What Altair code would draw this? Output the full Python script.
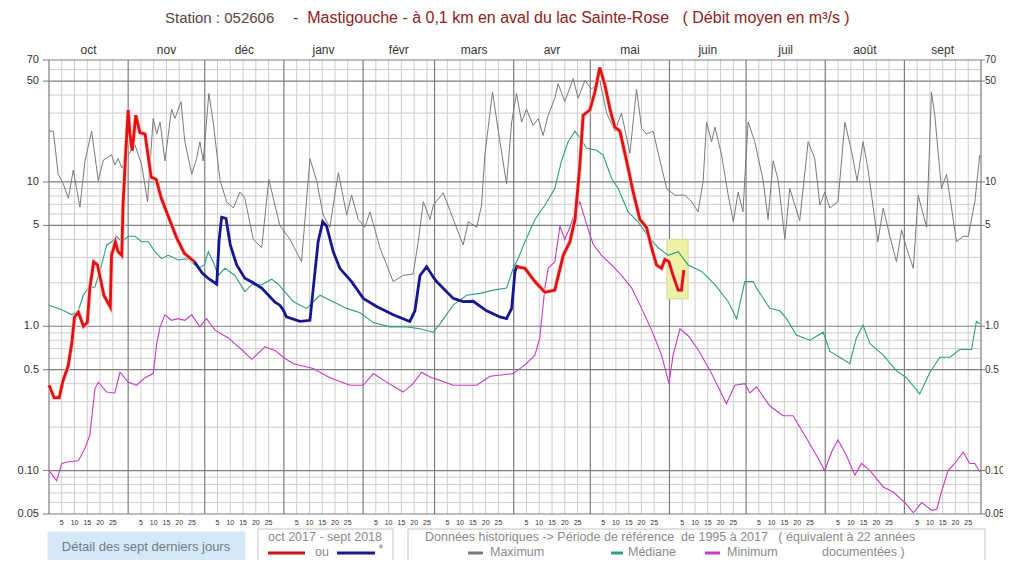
import altair as alt
import pandas as pd

NB = "\u00a0"
# ---------------- text ----------------
title_station = "Station : 052606"
title_rest = "-" + NB * 2 + "Mastigouche - à 0,1 km en aval du lac Sainte-Rose" + NB * 3 + "( Débit moyen en m³/s )"
legend_period = "oct 2017 - sept 2018"
legend_detail = "Détail des sept derniers jours"
legend_hist = ("Données historiques -> Période de référence" + NB * 2 + "de 1995 à 2017" + NB * 3
               + "( équivalent à 22 années")
legend_names = ["Maximum", "Médiane", "Minimum"]
legend_tail = "documentées )"
months = ["oct", "nov", "déc", "janv", "févr", "mars", "avr", "mai", "juin", "juil", "août", "sept"]
month_starts = [0, 31, 61, 92, 123, 151, 182, 212, 243, 273, 304, 335, 365]
day_marks = [5, 10, 15, 20, 25]
major_levels = [0.05, 0.1, 0.5, 1, 5, 10, 50, 70]
major_labels = ["0.05", "0.10", "0.5", "1.0", "5", "10", "50", "70"]
minor_levels = [0.06, 0.07, 0.08, 0.09, 0.2, 0.3, 0.4, 0.6, 0.7, 0.8, 0.9,
                2, 3, 4, 6, 7, 8, 9, 20, 30, 40, 60]

# ---------------- data (day index from 1 Oct, flow m3/s) ----------------
current_red_1 = [(0, 0.39), (2, 0.32), (4, 0.32), (5.5, 0.42), (7.5, 0.53), (9, 0.78), (10, 1.16),
                 (11.5, 1.25), (13.5, 1.0), (15, 1.06), (16, 1.84), (17.5, 2.79), (19, 2.66),
                 (21.5, 1.64), (24, 1.36), (24.5, 3.1), (26, 3.85), (27, 3.3), (28.5, 3.1),
                 (29, 6.9), (30, 15.4), (31, 31.5), (31.7, 21.5), (32.6, 16.5), (34, 29),
                 (35.6, 22), (37.6, 21.5), (39, 14.5), (40, 10.8), (42, 10.4), (44, 7.7),
                 (47, 5.6), (50, 4.1), (53, 3.2), (57, 2.8)]
current_blue = [(57, 2.8), (60, 2.34), (62.4, 2.15), (65.7, 1.96), (66.6, 3.9), (67.6, 5.7),
                (69.3, 5.6), (71, 3.66), (73.5, 2.66), (76.7, 2.15), (80, 2.0), (83.3, 1.84),
                (88.5, 1.47), (90.4, 1.40), (91.7, 1.30), (93, 1.16), (98.3, 1.08), (102.2, 1.10),
                (103.5, 1.84), (105.4, 3.85), (107.2, 5.3), (108.7, 4.95), (111.3, 3.29),
                (113.9, 2.52), (118.5, 2.04), (123.1, 1.56), (128.3, 1.37), (134.8, 1.20),
                (141.3, 1.08), (143.3, 1.28), (145.3, 2.25), (147.9, 2.59), (150.5, 2.19),
                (151.8, 2.04), (158.3, 1.56), (162.2, 1.48), (166.1, 1.49), (171.4, 1.28),
                (176.6, 1.16), (179.2, 1.13), (181.2, 1.33), (182.5, 2.4), (183.4, 2.66)]
current_red_2 = [(183, 2.59), (186.4, 2.52), (190.3, 2.04), (194.2, 1.72), (198.1, 1.78),
                 (201.4, 3.1), (204, 3.85), (206, 5.5), (207.9, 13.1), (209.2, 29), (211.8, 31.5),
                 (213.8, 42), (215.7, 62), (217.7, 47), (219.7, 32), (221.6, 24), (223.6, 22.5),
                 (226.2, 14), (228.8, 8.5), (231.4, 5.5), (234, 4.85), (236, 3.5), (237.9, 2.66),
                 (239.9, 2.52), (241.2, 2.9), (242.8, 2.8), (244.4, 2.25), (246.4, 1.78),
                 (247.7, 1.78), (248.6, 2.45)]
maximum = [(0, 22.5), (1.7, 22.5), (3.6, 11.3), (5.6, 9.7), (7.6, 7.7), (9.5, 12.1), (10.8, 9.0),
           (12.1, 6.7), (14.1, 14), (16.7, 22.5), (19.3, 10.2), (21.3, 14.2), (24.5, 15.4),
           (25.8, 13.1), (27.1, 14.5), (28.5, 12.5), (31, 15.4), (33.7, 18.0), (36.3, 13.1),
           (38.6, 7.3), (40.8, 27.5), (42.2, 21.5), (43.5, 26), (45.4, 14), (48, 32), (49.3, 27.5),
           (51.7, 36), (53.2, 19), (55.9, 11.3), (57.8, 14.5), (59.1, 19), (60.4, 14), (62.6, 41),
           (64.3, 26), (67, 10.2), (69.6, 7.3), (72.2, 6.6), (74.8, 8.5), (76.7, 7.7), (80, 4.0),
           (83.3, 3.5), (86.1, 10.4), (88.5, 6.9), (90.4, 5.0), (94.4, 4.0), (98.9, 2.8),
           (102.2, 14.5), (104.8, 10.2), (107.4, 5.9), (110, 4.85), (113.3, 11.6), (116.6, 5.9),
           (118.5, 8.1), (121.1, 5.5), (123.7, 4.85), (125.7, 6.2), (129.6, 3.5), (134.8, 2.04),
           (138.7, 2.25), (142.6, 2.3), (144.6, 3.85), (146.6, 7.3), (149.2, 5.5), (150.5, 6.9),
           (154.4, 8.4), (157.7, 5.9), (162.2, 3.66), (164.2, 5.3), (167.5, 4.85), (169.4, 6.9),
           (170.7, 15.4), (173.7, 42), (176.6, 19), (179.2, 9.7), (181.2, 26), (183.1, 41),
           (185.1, 26), (187, 32), (189.6, 24.6), (191.6, 27.5), (193.5, 21), (195.5, 29),
           (198.1, 38), (199.4, 48), (202, 36), (205.3, 52), (207.2, 38), (209.9, 50.5),
           (212.5, 44), (215.7, 50.5), (218.4, 30), (221.6, 22.5), (224.2, 30), (227.5, 15.8),
           (230.1, 44), (232.1, 23.5), (234, 21.5), (236.6, 22.5), (239.3, 14), (241.9, 9.0),
           (245.1, 8.1), (249, 8.1), (251.7, 7.3), (254.2, 6.2), (256.2, 10.2), (257.5, 26),
           (259.5, 19), (260.8, 24), (263.4, 15.4), (266, 8.1), (268, 5.3), (269.9, 8.5),
           (271.8, 6.2), (272.5, 10.6), (273.8, 26), (276.4, 19), (279.7, 10.2), (281.6, 5.5),
           (283.6, 14), (285.6, 10.2), (288.2, 4.0), (290.1, 9.0), (294, 5.4), (297.3, 19),
           (299.9, 14.5), (301.9, 6.9), (303.8, 8.5), (305.8, 6.6), (309, 7.3), (311.7, 26),
           (314.3, 16.3), (316.5, 10.2), (318.8, 19), (320.7, 12.5), (324.6, 3.85), (326.7, 6.6),
           (329.3, 4.2), (331.9, 2.8), (333.9, 4.65), (335.8, 3.5), (338.5, 2.52), (340.4, 8.1),
           (343.7, 4.85), (345.6, 42), (346.9, 29), (349.5, 9.0), (351.5, 11.3), (355.4, 3.85),
           (358, 4.2), (360, 4.2), (362.6, 7.3), (364.5, 15.4)]
median = [(0, 1.40), (5, 1.30), (9, 1.2), (11.5, 1.28), (13.4, 1.64), (15.4, 1.84), (18, 1.87),
          (20.6, 2.66), (22.6, 3.66), (24.5, 3.85), (26.5, 4.2), (28.5, 3.85), (31, 4.2),
          (33.7, 4.2), (36.3, 3.85), (38.9, 3.85), (41.5, 3.29), (44.1, 2.94), (46.7, 3.1),
          (50.6, 2.88), (54.5, 2.94), (58.5, 2.52), (60.8, 2.66), (62.4, 3.29), (64.3, 2.8),
          (66.3, 2.25), (68.9, 2.52), (72.8, 2.25), (76.7, 1.74), (79.4, 1.94), (83.3, 1.94),
          (87.2, 2.12), (90, 1.94), (95.7, 1.48), (100.9, 1.33), (106.1, 1.64), (111.3, 1.48),
          (116.6, 1.33), (121.8, 1.24), (127, 1.06), (133.5, 0.99), (140, 0.99), (145.3, 0.96),
          (150.5, 0.91), (153.1, 1.04), (158.3, 1.40), (163.5, 1.64), (168.8, 1.69), (174, 1.78),
          (179.2, 1.84), (181.8, 2.52), (183.7, 2.94), (186.4, 3.85), (190.3, 5.5), (194.2, 6.9),
          (198.1, 9.0), (200.7, 14), (203.3, 19), (206, 22.5), (207.9, 20.3), (210.5, 17.2),
          (214.4, 16.6), (217, 15.4), (220.3, 10.6), (222.9, 9.0), (226.8, 6.2), (230.7, 5.3),
          (234.7, 4.2), (238.6, 3.5), (242.5, 3.1), (246.4, 3.29), (250.3, 2.66), (255.6, 2.4),
          (260.8, 1.94), (266, 1.48), (269.3, 1.13), (272.5, 2.04), (275.8, 2.04), (277.1, 1.84),
          (282.3, 1.33), (286.2, 1.28), (288.8, 1.13), (292.7, 0.87), (298, 0.80), (303.2, 0.91),
          (305.8, 0.67), (309.7, 0.61), (313.6, 0.55), (316.2, 0.83), (318.8, 1.02), (321.5, 0.76),
          (326.7, 0.63), (331.9, 0.49), (335.8, 0.44), (341, 0.34), (345, 0.48), (348.9, 0.61),
          (352.8, 0.61), (356.7, 0.69), (361.3, 0.69), (363.2, 1.08), (364.5, 1.04)]
minimum = [(0, 0.10), (3, 0.085), (5, 0.112), (7.6, 0.115), (11.5, 0.117), (14.1, 0.143),
           (16, 0.176), (18, 0.37), (19.3, 0.41), (22.6, 0.35), (25.8, 0.345), (27.8, 0.48),
           (31, 0.41), (34.3, 0.39), (37.6, 0.44), (40.8, 0.47), (42.2, 0.76), (43.5, 0.99),
           (45.4, 1.2), (48, 1.10), (50.6, 1.13), (53.2, 1.10), (55.9, 1.2), (59.1, 0.99),
           (61.7, 1.13), (65, 0.94), (70.2, 0.83), (75.4, 0.69), (79.4, 0.59), (84.6, 0.72),
           (88.5, 0.68), (91.7, 0.61), (95.7, 0.55), (103.5, 0.51), (110, 0.44), (117.9, 0.39),
           (123.1, 0.39), (127, 0.47), (132.2, 0.41), (138.7, 0.35), (142.6, 0.40), (145.9, 0.48),
           (149.8, 0.44), (151.8, 0.43), (158.3, 0.39), (167.5, 0.39), (172.7, 0.45), (181.8, 0.47),
           (186.4, 0.54), (190.3, 0.63), (192.2, 0.83), (194.2, 1.84), (195.5, 2.52), (198.1, 2.8),
           (200.1, 4.95), (202, 4.0), (204, 4.85), (206, 6.2), (207.9, 7.3), (210.5, 5.1),
           (213.1, 3.7), (216.4, 3.1), (220.3, 2.66), (224.2, 2.25), (228.2, 1.84), (232.1, 1.33),
           (236, 0.94), (239.9, 0.63), (242.8, 0.40), (244.4, 0.63), (247.1, 0.96), (250.3, 0.86),
           (254.2, 0.69), (259.5, 0.47), (265.3, 0.29), (268.6, 0.39), (272.5, 0.40), (274.5, 0.345),
           (277.1, 0.38), (282.3, 0.28), (287.5, 0.24), (291.4, 0.24), (296.7, 0.167), (300.6, 0.127),
           (303.8, 0.10), (306.5, 0.135), (309, 0.163), (312.3, 0.127), (315.6, 0.093), (318.2, 0.112),
           (321.5, 0.10), (326.7, 0.077), (330.6, 0.071), (335.2, 0.060), (338.5, 0.051),
           (341.8, 0.060), (345.7, 0.053), (347.7, 0.054), (349.5, 0.071), (352.1, 0.10),
           (354.7, 0.112), (358, 0.134), (360.6, 0.112), (362.6, 0.112), (364.5, 0.098)]

# last seven days window (highlighted)
last7_days = [242, 250.3]
last7_flow = [1.55, 4.0]

# ---------------- styling ----------------
FONT = "Liberation Sans, Arial, sans-serif"
W, H = 932, 454
C_MAX, C_MED, C_MIN = "#7a7a7a", "#2f9f82", "#c63cc6"
C_RED, C_BLUE = "#e01212", "#16168f"
C_GRID, C_MAJOR = "#cdcdcd", "#7d7d7d"
C_LEG = "#8a8a8a"

xs = alt.Scale(domain=[0, 365], nice=False, zero=False)
ys = alt.Scale(type="log", domain=[0.05, 70], nice=False)
X = alt.X("day:Q", scale=xs, axis=None)
Y = alt.Y("v:Q", scale=ys, axis=None)


def df(pairs):
    return pd.DataFrame(pairs, columns=["day", "v"])


def line(pairs, color, width):
    return alt.Chart(df(pairs)).mark_line(color=color, strokeWidth=width).encode(x=X, y=Y)


ONE = alt.Data(values=[{}])


def label(txt, x, y, size=12, color=C_LEG, align="left", baseline="middle"):
    return alt.Chart(ONE).mark_text(text=txt, font=FONT, fontSize=size, color=color,
                                    align=align, baseline=baseline).encode(
        x=alt.value(x), y=alt.value(y))


def box(x1, x2, y1, y2, fill, stroke):
    return alt.Chart(ONE).mark_rect(fill=fill, stroke=stroke, strokeWidth=1).encode(
        x=alt.value(x1), x2=alt.value(x2), y=alt.value(y1), y2=alt.value(y2))


def seg(x1, x2, y, color, width=3):
    return alt.Chart(ONE).mark_rule(color=color, strokeWidth=width).encode(
        x=alt.value(x1), x2=alt.value(x2), y=alt.value(y))


# grid
minor_v = [s + d for s in month_starts[:-1] for d in day_marks]
grid_vmin = alt.Chart(pd.DataFrame({"day": minor_v})).mark_rule(color=C_GRID, strokeWidth=1).encode(x=X)
grid_hmin = alt.Chart(pd.DataFrame({"v": minor_levels})).mark_rule(color=C_GRID, strokeWidth=1).encode(y=Y)
grid_vmaj = alt.Chart(pd.DataFrame({"day": month_starts})).mark_rule(color=C_MAJOR, strokeWidth=1.2).encode(x=X)
grid_hmaj = alt.Chart(pd.DataFrame({"v": major_levels})).mark_rule(color=C_MAJOR, strokeWidth=1.2).encode(y=Y)

lab_df = pd.DataFrame({"v": major_levels, "lab": major_labels})
ticks_l = alt.Chart(lab_df).mark_rule(color=C_MAJOR).encode(y=Y, x=alt.value(-6), x2=alt.value(0))
ticks_r = alt.Chart(lab_df).mark_rule(color=C_MAJOR).encode(y=Y, x=alt.value(W), x2=alt.value(W + 4))
labs_l = alt.Chart(lab_df).mark_text(font=FONT, fontSize=11, color="#333333", align="right",
                                     baseline="middle").encode(y=Y, x=alt.value(-10), text="lab:N")
labs_r = alt.Chart(lab_df).mark_text(font=FONT, fontSize=10, color="#333333", align="left",
                                     baseline="middle").encode(y=Y, x=alt.value(W + 4), text="lab:N")

mid_days = [(month_starts[i] + month_starts[i + 1]) / 2 for i in range(12)]
month_labs = alt.Chart(pd.DataFrame({"day": mid_days, "m": months})).mark_text(
    font=FONT, fontSize=12, color="#333333", baseline="bottom").encode(x=X, y=alt.value(-3), text="m:N")
day_labs = alt.Chart(pd.DataFrame({"day": minor_v, "t": [str(d) for s in month_starts[:-1] for d in day_marks]})
                     ).mark_text(font=FONT, fontSize=7, color="#333333", baseline="top").encode(
    x=X, y=alt.value(H + 5), text="t:N")

hl = alt.Chart(pd.DataFrame({"day": [last7_days[0]], "day2": [last7_days[1]],
                             "v": [last7_flow[0]], "v2": [last7_flow[1]]})).mark_rect(
    fill="#eef2a4", stroke="#cfdc9a", strokeWidth=1).encode(
    x=X, x2="day2:Q", y=Y, y2="v2:Q")

R1, R2 = 477, 492
layers = [
    grid_vmin, grid_hmin, grid_vmaj, grid_hmaj, ticks_l, ticks_r, labs_l, labs_r,
    month_labs, day_labs, hl,
    line(maximum, C_MAX, 1),
    line(median, C_MED, 1.1),
    line(minimum, C_MIN, 1.1),
    line(current_red_1, "#f9cdcd", 4.5),
    line(current_red_2, "#f9cdcd", 4.5),
    line(current_red_1, C_RED, 2.8),
    line(current_blue, C_BLUE, 2.8),
    line(current_red_2, C_RED, 2.8),
    # title
    label(title_station, 116, -42, size=15, color="#5a4444"),
    label(title_rest, 244, -42, size=16, color="#8b2323"),
    # legend boxes
    box(-1, 196, 472, 505, "#d6e8f5", "#d6e8f5"),
    label(legend_detail, 97, 487, size=13, color="#6e7c88", align="center"),
    box(209, 344, 469, 505, "#ffffff", "#c4c4c4"),
    label(legend_period, 276, R1, size=12.5, align="center"),
    seg(219, 256, R2 + 1, "#c81414"),
    label("ou", 273, R2, size=12.5, align="center"),
    seg(288, 326, R2 + 1, "#1a1a8c"),
    label("*", 332, R2 - 3, size=12.5, align="center"),
    box(359, 936, 469, 505, "#ffffff", "#c4c4c4"),
    label(legend_hist, 376, R1, size=12.5),
    seg(419, 434, R2 + 1, C_MAX),
    label(legend_names[0], 441, R2, size=12.5),
    seg(562, 574, R2 + 1, C_MED),
    label(legend_names[1], 579, R2, size=12.5),
    seg(656, 671, R2 + 1, C_MIN),
    label(legend_names[2], 678, R2, size=12.5),
    label(legend_tail, 773, R2, size=12.5),
]

chart = alt.layer(*layers).properties(
    width=W, height=H,
    autosize=alt.AutoSizeParams(type="none"),
    padding={"left": 41, "top": 52, "right": 22, "bottom": 46},
).configure_view(stroke=None)

chart.save("out.html", embed_options={"renderer": "svg", "actions": False})
